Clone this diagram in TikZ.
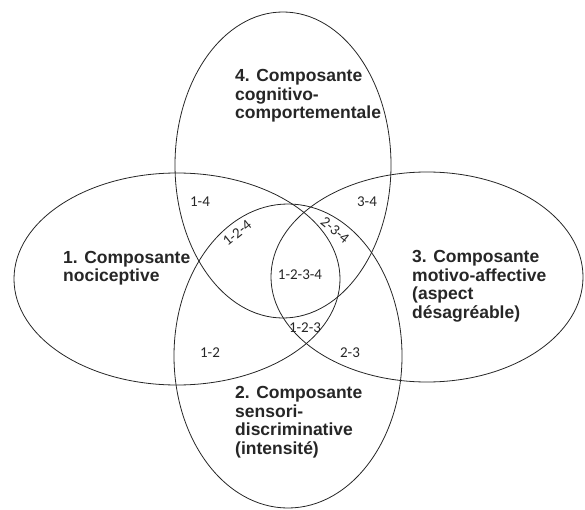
\documentclass[tikz,border=0pt]{standalone}
\usepackage{fontspec}
\setmainfont{Liberation Sans}
\newfontfamily\zonefont{Carlito}
\usetikzlibrary{shapes.geometric}

\begin{document}
\begin{tikzpicture}[
    x=1pt, y=-1pt,
    set/.style={ellipse, draw=black!85, line width=0.8pt, inner sep=0pt, outer sep=0pt},
    title/.style={font=\fontsize{17.5}{18.5}\selectfont\bfseries, align=left, anchor=west, inner sep=0pt, text=black!85},
    zone/.style={font=\zonefont\fontsize{15}{15}\selectfont, inner sep=0pt, text=black!85}
]
\useasboundingbox (0,0) rectangle (585,510);

% ================= SETS =================
\node[set, minimum width=326pt, minimum height=212pt] (noci) at (177,279) {};
\node[set, minimum width=228pt, minimum height=304pt] (sensori) at (288,356) {};
\node[set, minimum width=312pt, minimum height=210pt] (motivo) at (427,277) {};
\node[set, minimum width=216pt, minimum height=306pt] (cogni) at (283,165) {};

% ================= TITLES =================
\node[title] (tnoci) at (63,268) {1. Composante\\nociceptive};
\node[title] (tsensori) at (235,422) {2. Composante\\sensori-\\discriminative\\(intensité)};
\node[title] (tmotivo) at (412,286) {3. Composante\\motivo-affective\\(aspect\\désagréable)};
\node[title] (tcogni) at (235,96) {4. Composante\\cognitivo-\\comportementale};

% ================= ZONES =================
\node[zone] (z14) at (200,202) {1-4};
\node[zone] (z34) at (367,202) {3-4};
\node[zone, rotate=39] (z124) at (237,233) {1-2-4};
\node[zone, rotate=-39] (z234) at (335,230) {2-3-4};
\node[zone] (z1234) at (300,275) {1-2-3-4};
\node[zone] (z123) at (305,328) {1-2-3};
\node[zone] (z12) at (210,353) {1-2};
\node[zone] (z23) at (350,353) {2-3};

\end{tikzpicture}
\end{document}
